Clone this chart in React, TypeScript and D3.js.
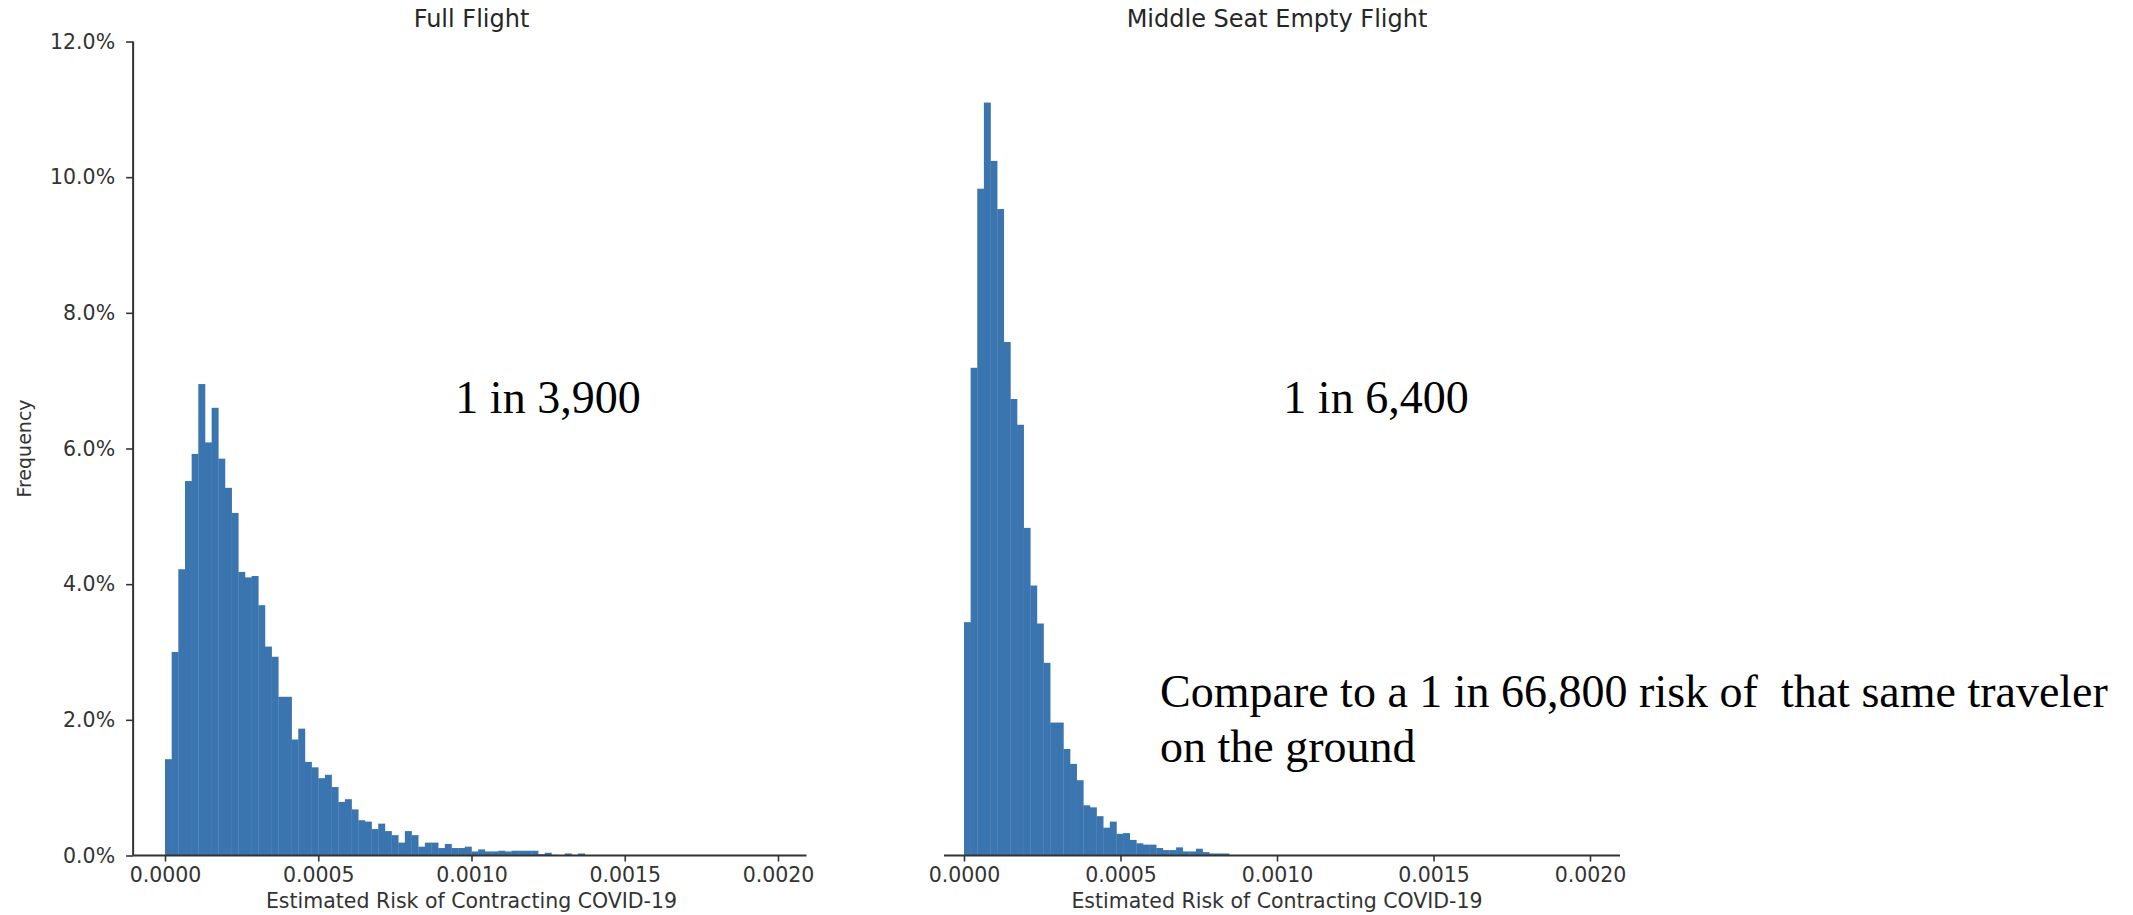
import React from "react";
import * as d3 from "d3";

// histogram heights in percent, one value per bin
const fullFlight = [
  1.42, 3.0, 4.22, 5.52, 5.92, 6.95, 6.09, 6.6, 5.85, 5.42, 5.05, 4.18, 4.1,
  4.12, 3.69, 3.08, 2.93, 2.34, 2.34, 1.71, 1.87, 1.38, 1.3, 1.14, 1.19, 1.01,
  0.79, 0.83, 0.68, 0.52, 0.5, 0.39, 0.47, 0.36, 0.3, 0.19, 0.36, 0.3, 0.13,
  0.19, 0.19, 0.11, 0.17, 0.11, 0.11, 0.13, 0.06, 0.09, 0.06, 0.06, 0.07, 0.06,
  0.07, 0.07, 0.07, 0.07, 0.02, 0.04, 0.01, 0, 0.03, 0.01, 0.03,
];
const middleEmpty = [
  3.44, 7.19, 9.83, 11.1, 10.24, 9.53, 7.57, 6.73, 6.35, 4.83, 3.98, 3.42, 2.84,
  1.96, 1.96, 1.57, 1.35, 1.11, 0.74, 0.71, 0.58, 0.41, 0.5, 0.32, 0.33, 0.23,
  0.18, 0.16, 0.16, 0.11, 0.08, 0.08, 0.12, 0.06, 0.06, 0.1, 0.05, 0.03, 0.03,
  0.03,
];
const binWidthFull = 0.0005 / 23;
const binWidthMiddle = 0.000847 / 40;

const xTicks = [0, 0.0005, 0.001, 0.0015, 0.002];
const yTicks = [0, 0.02, 0.04, 0.06, 0.08, 0.1, 0.12];

const titles = ["Full Flight", "Middle Seat Empty Flight"];
const xLabel = "Estimated Risk of Contracting COVID-19";
const yLabel = "Frequency";
const riskLabels = ["1 in 3,900", "1 in 6,400"];
const groundNote = [
  "Compare to a 1 in 66,800 risk of  that same traveler",
  "on the ground",
];

const BAR = "#3b75af";
const AXIS = "#333333";
const SANS = "DejaVu Sans, sans-serif";
const SERIF = "Liberation Serif, serif";

const App = () => {
  const svgRef = React.useRef<SVGSVGElement>(null);

  React.useEffect(() => {
    const svg = d3.select(svgRef.current);
    svg.selectAll("*").remove();

    const y = d3.scaleLinear().domain([0, 0.12]).range([855.5, 41.5]);

    const panels = [
      {
        values: fullFlight,
        bin: binWidthFull,
        x: d3.scaleLinear().domain([0, 0.002]).range([165, 778]),
        xMin: -0.000104,
        xMax: 0.002093,
        showY: true,
        title: titles[0],
        risk: riskLabels[0],
        riskX: 548,
      },
      {
        values: middleEmpty,
        bin: binWidthMiddle,
        x: d3.scaleLinear().domain([0, 0.002]).range([964, 1590]),
        xMin: -0.000064,
        xMax: 0.002096,
        showY: false,
        title: titles[1],
        risk: riskLabels[1],
        riskX: 1376,
      },
    ];

    panels.forEach((p) => {
      const g = svg.append("g");

      g.selectAll("rect.bar")
        .data(p.values)
        .enter()
        .append("rect")
        .attr("class", "bar")
        .attr("x", (d, i) => p.x(i * p.bin))
        .attr("width", (d, i) => p.x((i + 1) * p.bin) - p.x(i * p.bin) + 0.3)
        .attr("y", (d) => y(d / 100))
        .attr("height", (d) => y(0) - y(d / 100))
        .attr("fill", BAR);

      const xAxis = g
        .append("g")
        .attr("transform", `translate(0,${y(0)})`)
        .call(
          d3
            .axisBottom(p.x)
            .tickValues(xTicks)
            .tickFormat(d3.format(".4f"))
            .tickSize(6)
            .tickPadding(6)
        );
      xAxis.select(".domain").remove();
      xAxis
        .append("line")
        .attr("x1", p.x(p.xMin))
        .attr("x2", p.x(p.xMax))
        .attr("stroke", AXIS)
        .attr("stroke-width", 2);
      xAxis.selectAll(".tick line").attr("stroke", AXIS).attr("stroke-width", 1.6);
      xAxis
        .selectAll(".tick text")
        .attr("fill", AXIS)
        .style("font-family", SANS)
        .style("font-size", "20.5px");

      if (p.showY) {
        const x0 = p.x(p.xMin);
        const yAxis = g
          .append("g")
          .attr("transform", `translate(${x0},0)`)
          .call(
            d3
              .axisLeft(y)
              .tickValues(yTicks)
              .tickFormat(d3.format(".1%"))
              .tickSize(7)
              .tickPadding(11)
          );
        yAxis.select(".domain").remove();
        yAxis
          .append("line")
          .attr("y1", y(0))
          .attr("y2", y(0.12))
          .attr("stroke", AXIS)
          .attr("stroke-width", 2);
        yAxis.selectAll(".tick line").attr("stroke", AXIS).attr("stroke-width", 1.6);
        yAxis
          .selectAll(".tick text")
          .attr("fill", AXIS)
          .style("font-family", SANS)
          .style("font-size", "20.5px");

        g.append("text")
          .attr("transform", `translate(24,${(y(0) + y(0.12)) / 2}) rotate(-90)`)
          .attr("text-anchor", "middle")
          .attr("dominant-baseline", "central")
          .attr("fill", AXIS)
          .style("font-family", SANS)
          .style("font-size", "19px")
          .text(yLabel);
      }

      const mid = p.x(0.001);
      g.append("text")
        .attr("x", mid)
        .attr("y", 27)
        .attr("text-anchor", "middle")
        .attr("fill", "#262626")
        .style("font-family", SANS)
        .style("font-size", "24px")
        .text(p.title);

      g.append("text")
        .attr("x", mid)
        .attr("y", 908)
        .attr("text-anchor", "middle")
        .attr("fill", AXIS)
        .style("font-family", SANS)
        .style("font-size", "20.5px")
        .text(xLabel);

      g.append("text")
        .attr("x", p.riskX)
        .attr("y", 413)
        .attr("text-anchor", "middle")
        .attr("fill", "#000")
        .style("font-family", SERIF)
        .style("font-size", "46px")
        .text(p.risk);
    });

    groundNote.forEach((line, i) => {
      svg
        .append("text")
        .attr("x", 1160)
        .attr("y", 707 + i * 55)
        .attr("fill", "#000")
        .style("font-family", SERIF)
        .style("font-size", "46px")
        .style("white-space", "pre")
        .text(line);
    });
  }, []);

  return (
    <svg
      ref={svgRef}
      width={2133}
      height={915}
      style={{ position: "absolute", left: 0, top: 0, background: "#fff" }}
    ></svg>
  );
};

export default App;
